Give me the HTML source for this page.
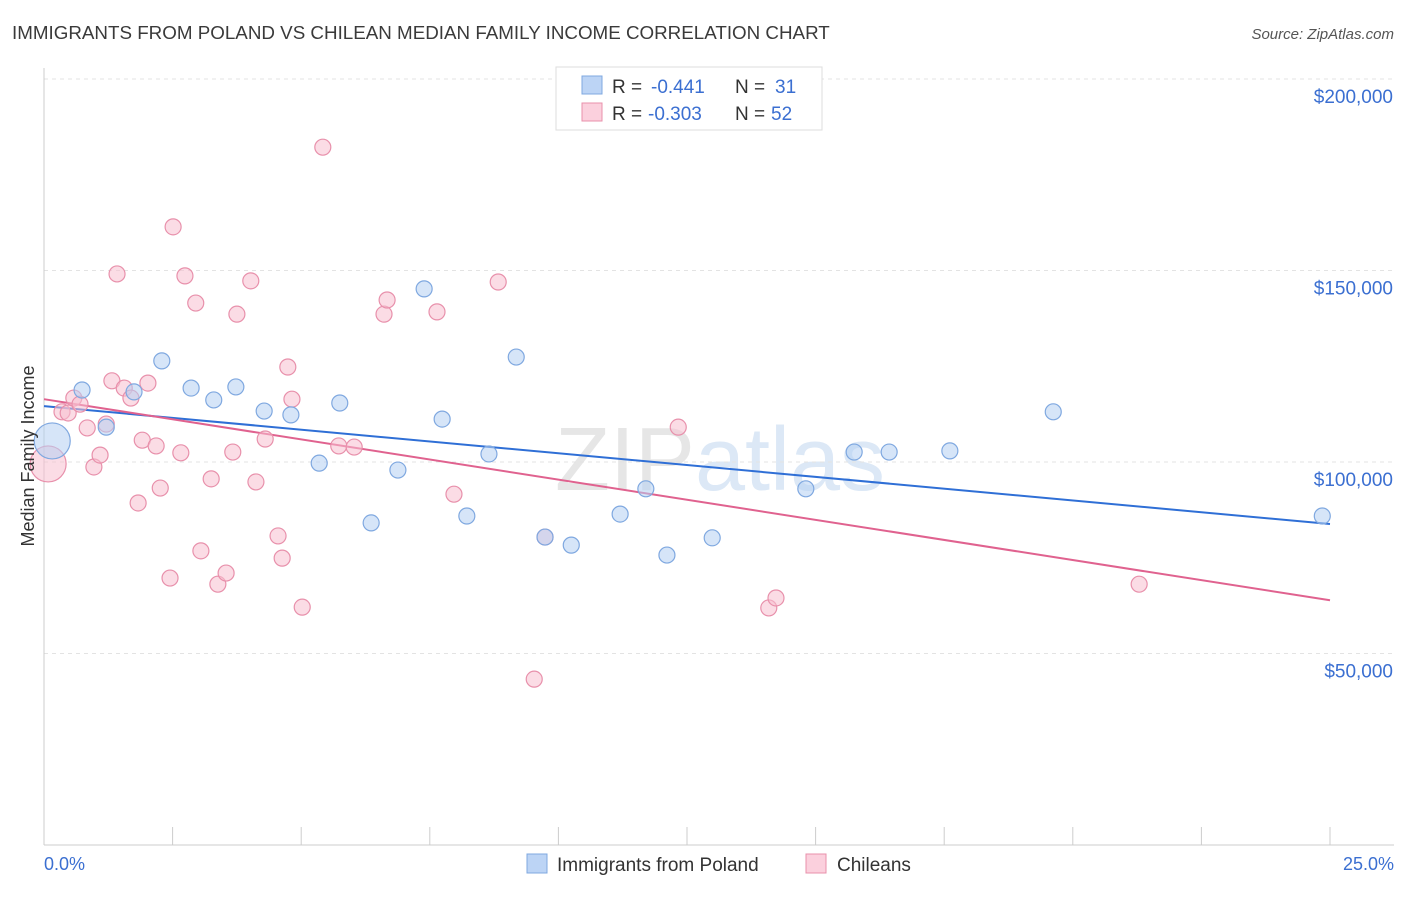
<!DOCTYPE html>
<html><head><meta charset="utf-8"><style>
body{margin:0;background:#fff;font-family:"Liberation Sans",sans-serif}
svg text{font-family:"Liberation Sans",sans-serif}
</style></head><body>
<svg id="chart" width="1406" height="892">
<text x="12" y="39" font-size="18.8" fill="#3a3a3a">IMMIGRANTS FROM POLAND VS CHILEAN MEDIAN FAMILY INCOME CORRELATION CHART</text>
<text x="1394" y="39" font-size="15" fill="#555" text-anchor="end" font-style="italic">Source: ZipAtlas.com</text>
<text x="720" y="490" font-size="90" fill="#e6e6e6" text-anchor="middle" font-family="Liberation Serif">ZIP<tspan fill="#dce8f6" font-family="Liberation Sans">atlas</tspan></text>
<g id="grid"></g><g id="axes"></g><g id="lines"></g><g id="pts"></g>
<text transform="translate(34,456) rotate(-90)" font-size="18" fill="#333" text-anchor="middle">Median Family Income</text>
<text x="44" y="870" font-size="18" fill="#3b6fd1">0.0%</text>
<text x="1394" y="870" font-size="18" fill="#3b6fd1" text-anchor="end">25.0%</text>
<g>
<rect x="556" y="67" width="266" height="63" fill="#fff" stroke="#ddd"/>
<rect x="582" y="76" width="20" height="18" fill="#bcd4f5" stroke="#7fa8e0"/>
<rect x="582" y="103" width="20" height="18" fill="#fbd0dd" stroke="#e890ab"/>
<text y="93" font-size="19" fill="#333"><tspan x="612">R =</tspan><tspan x="651" fill="#3b6fd1">-0.441</tspan><tspan x="735">N =</tspan><tspan x="775" fill="#3b6fd1">31</tspan></text>
<text y="120" font-size="19" fill="#333"><tspan x="612">R =</tspan><tspan x="648" fill="#3b6fd1">-0.303</tspan><tspan x="735">N =</tspan><tspan x="771" fill="#3b6fd1">52</tspan></text>
</g>
<g><rect x="527" y="854" width="20" height="19" fill="#bcd4f5" stroke="#7fa8e0"/><text x="557" y="871" font-size="19" fill="#333">Immigrants from Poland</text></g>
<g><rect x="806" y="854" width="20" height="19" fill="#fbd0dd" stroke="#e890ab"/><text x="837" y="871" font-size="19" fill="#333">Chileans</text></g>
</svg>
<script>
const yTicks=[50000,100000,150000,200000];
const yTickLabels=["$50,000","$100,000","$150,000","$200,000"];
const blueX=[0.74,1.21,1.75,2.29,2.86,3.30,3.73,4.28,4.80,5.35,5.75,6.36,6.88,7.39,7.74,8.22,8.65,9.18,9.74,10.25,11.20,11.70,12.11,12.99,14.81,15.75,16.43,17.61,19.62,24.85,0.16];
const blueY=[118.8,109.1,118.3,126.4,119.3,116.2,119.6,113.3,112.3,99.7,115.4,84.1,97.9,145.2,111.2,85.9,102.1,127.4,80.4,78.3,86.4,93.0,75.7,80.2,93.0,102.6,102.6,102.9,113.1,85.9,105.5];
const blueR=[8,8,8,8,8,8,8,8,8,8,8,8,8,8,8,8,8,8,8,8,8,8,8,8,8,8,8,8,8,8,18];
const pinkX=[0.08,0.35,0.47,0.58,0.70,0.84,0.97,1.09,1.21,1.32,1.42,1.56,1.69,1.83,1.91,2.02,2.18,2.26,2.45,2.51,2.66,2.74,2.95,3.05,3.25,3.38,3.54,3.67,3.75,4.02,4.12,4.30,4.55,4.63,4.74,4.82,5.02,5.42,5.73,6.03,6.61,6.67,7.64,7.97,8.83,9.53,9.74,12.33,14.09,14.23,21.29];
const pinkY=[99.5,113.1,112.8,116.7,115.1,108.9,98.7,101.8,109.9,121.2,149.1,119.3,116.7,89.3,105.7,120.6,104.2,93.2,69.7,161.4,102.4,148.6,141.5,76.8,95.6,68.1,71.0,102.6,138.6,147.3,94.8,106.0,80.7,74.9,124.8,116.4,62.1,182.2,104.2,103.9,138.6,142.3,139.2,91.6,147.0,43.3,80.4,109.1,61.9,64.5,68.1];
const blueTrend=[114.6,83.8];
const pinkTrend=[116.4,63.9];
const NS='http://www.w3.org/2000/svg';
const X=p=>44+p/25*1286;
const Y=v=>845-v/50000*191.5;
function mk(t,a,parent){const e=document.createElementNS(NS,t);for(const k in a)e.setAttribute(k,a[k]);document.getElementById(parent).appendChild(e);return e;}
yTicks.forEach((v,i)=>{
 const l=mk('line',{x1:44,x2:1394,y1:Y(v),y2:Y(v),stroke:'#e3e3e3','stroke-dasharray':'4,4'},'grid');
 
 
 const t=mk('text',{x:1393,y:Y(v)+24,'font-size':19,fill:'#3b6fd1','text-anchor':'end'},'grid');
 t.textContent=yTickLabels[i];
 
 
});
const topLine=mk('line',{x1:44,x2:1394,y1:79,y2:79,stroke:'#e3e3e3','stroke-dasharray':'4,4'},'grid');


const ya=mk('line',{x1:44,x2:44,y1:68,y2:845,stroke:'#ccc'},'axes');


const xa=mk('line',{x1:44,x2:1394,y1:845,y2:845,stroke:'#ccc'},'axes');


for(let i=0;i<=10;i++){const tk=mk('line',{x1:X(i*2.5),x2:X(i*2.5),y1:827,y2:845,stroke:'#ccc'},'axes');
 
 }
function pts(xs,ys,rs,fill,stroke,name){xs.forEach((x,i)=>{const c=mk('circle',{cx:X(x),cy:Y(ys[i]*1000),r:rs[i],fill:fill,'fill-opacity':0.55,stroke:stroke,'stroke-width':1.2},'pts');
 
 });}
pts(pinkX,pinkY,pinkX.map((x,i)=>i===0?18:8),'#f7bfd0','#e890ab','chilean-point');
pts(blueX,blueY,blueR,'#b5d0f3','#7fa8e0','poland-point');
const bl=mk('line',{x1:X(0),y1:Y(blueTrend[0]*1000),x2:X(25),y2:Y(blueTrend[1]*1000),stroke:'#2f6fd6','stroke-width':2},'lines');


const pl=mk('line',{x1:X(0),y1:Y(pinkTrend[0]*1000),x2:X(25),y2:Y(pinkTrend[1]*1000),stroke:'#e0628f','stroke-width':2},'lines');


</script>
</body></html>
